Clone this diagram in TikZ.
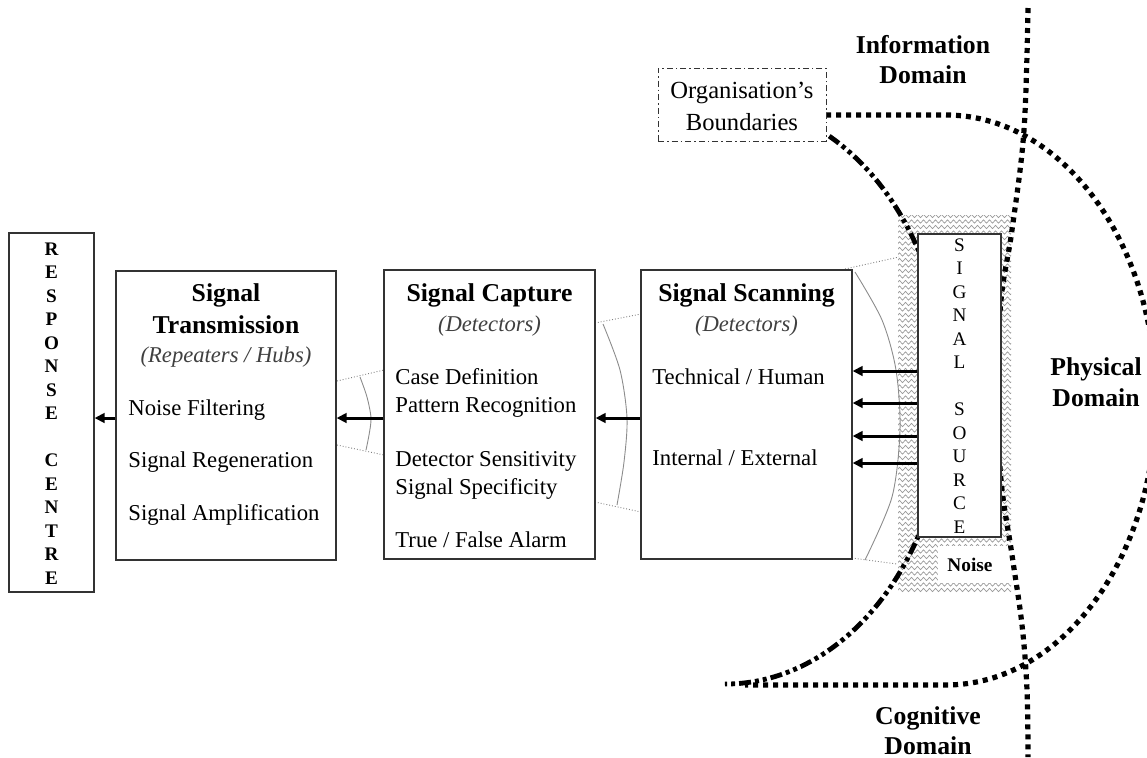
\documentclass[tikz,border=0pt]{standalone}
\usepackage{fontspec}
\setmainfont{Liberation Serif}
\usetikzlibrary{arrows.meta,decorations.pathmorphing,fit}
\newcommand\myfbody{\fontsize{11.35}{13.6}\selectfont}
\newcommand\myftitle{\fontsize{12.85}{16}\selectfont\bfseries}
\newcommand\myfital{\fontsize{11.3}{13.6}\selectfont\itshape\color{black!75}}
\newcommand\myforg{\fontsize{12.3}{16}\selectfont}
\newcommand\myflet{\fontsize{9.6}{11.75}\selectfont}
\newcommand\myfnoise{\fontsize{9.65}{11}\selectfont\bfseries}
\begin{document}
\begin{tikzpicture}[x=0.5pt,y=-0.5pt,
  box/.style={draw=black!80, line width=0.6pt, fill=white, inner sep=0pt},
  arr/.style={line width=1.5pt, -{Triangle[length=5pt,width=4.8pt]}},
  beamline/.style={draw=black!50, line width=0.45pt, densely dotted},
  beamarc/.style={draw=black!45, line width=0.45pt},
  dom/.style={line width=2.6pt, dash pattern=on 2.5pt off 2.5pt},
  orgarc/.style={line width=2.4pt, dash pattern=on 6pt off 2pt on 2pt off 2pt on 2pt off 2pt},
  txt/.style={anchor=base west, inner sep=0pt, font=\myfbody},
  ttl/.style={anchor=base, inner sep=0pt, font=\myftitle},
  itl/.style={anchor=base, inner sep=0pt, font=\myfital},
  hatchline/.style={draw=black!40, line width=0.35pt, decorate, decoration={zigzag, segment length=3pt, amplitude=0.8pt}},
]
\useasboundingbox (0,0) rectangle (1147,757);

% noise hatch
\begin{scope}
\clip (898,215) rectangle (1011,592);
\foreach \yy in {216,221.5,...,596} {
  \draw[hatchline] (892,\yy) -- (1020,\yy);
}
\end{scope}
\fill[white] (938,546) rectangle (1011,583);

% beams (grey)
\draw[beamline] (337,381) -- (384,370);
\draw[beamline] (337,445) -- (384,455);
\draw[beamarc] plot[smooth] coordinates {(360,377) (367,397) (371,418) (369,435) (366,450)};
\draw[beamline] (595,323) -- (641,314);
\draw[beamline] (595,502) -- (641,512);
\draw[beamarc] plot[smooth] coordinates {(603,324) (620,370) (627,418) (624,462) (617,505)};
\draw[beamline] (845,269) -- (899,257);
\draw[beamline] (852,558) -- (897,564);
\draw[beamarc] plot[smooth] coordinates {(855,272) (882,320) (896,370) (900,430) (892,497) (865,560)};

% domain boundaries
\draw[dom] (826,115) -- (946,115) arc[start angle=-90, end angle=90, x radius=210, y radius=285] -- (745,685);
\draw[dom] plot[smooth, tension=0.6] coordinates {(1028,8) (1024,130) (1012,230) (1001,300) (997,390) (1001,480) (1012,555) (1022,625) (1027,690) (1028,757)};
\draw[orgarc] (829.2,136.1) arc[start angle=-62, end angle=90, x radius=222, y radius=291];

% boxes
\node[box, fit={(9,233) (94,592)}] (resp) {};
\node[box, fit={(116,271) (336,560)}] (trans) {};
\node[box, fit={(384,270) (595,559)}] (cap) {};
\node[box, fit={(641,270) (852,559)}] (scan) {};
\node[box, fit={(918,234) (1001,537)}] (src) {};
\node[draw=black!80, line width=0.5pt, dash pattern=on 3pt off 1.5pt on 0.8pt off 1.5pt, fill=white, inner sep=0pt, fit={(658,68) (826,141)}] (org) {};

% vertical letters
\node[inner sep=0pt, align=center, font=\myflet\bfseries] (resptxt) at (51.5,413.5) {R\\E\\S\\P\\O\\N\\S\\E\\\mbox{}\\C\\E\\N\\T\\R\\E};
\node[inner sep=0pt, align=center, font=\myflet] (srctxt) at (959.5,386) {S\\I\\G\\N\\A\\L\\\mbox{}\\S\\O\\U\\R\\C\\E};

% transmission
\node[ttl] (t1) at (226,301) {Signal};
\node[ttl] (t2) at (226,333) {Transmission};
\node[itl] (t3) at (226,362) {(Repeaters / Hubs)};
\node[txt] (t4) at (128,415) {Noise Filtering};
\node[txt] (t5) at (128,467) {Signal Regeneration};
\node[txt] (t6) at (128,520) {Signal Amplification};

% capture
\node[ttl] (c1) at (489.5,301) {Signal Capture};
\node[itl] (c2) at (489.5,331) {(Detectors)};
\node[txt] (c3) at (395,384) {Case Definition};
\node[txt] (c4) at (395,412) {Pattern Recognition};
\node[txt] (c5) at (395,466) {Detector Sensitivity};
\node[txt] (c6) at (395,494) {Signal Specificity};
\node[txt] (c7) at (395,547) {True / False Alarm};

% scanning
\node[ttl] (s1) at (746.5,301) {Signal Scanning};
\node[itl] (s2) at (746.5,331) {(Detectors)};
\node[txt] (s3) at (652,384) {Technical / Human};
\node[txt] (s4) at (652,465) {Internal / External};

% labels
\node[inner sep=0pt, font=\myfnoise] (noise) at (970,565) {Noise};
\node[inner sep=0pt, anchor=base, font=\myforg] (o1) at (742,98) {Organisation’s};
\node[inner sep=0pt, anchor=base, font=\myforg] (o2) at (742,130) {Boundaries};
\node[ttl] (i1) at (923,53) {Information};
\node[ttl] (i2) at (923,83) {Domain};
\node[ttl] (p1) at (1096,375) {Physical};
\node[ttl] (p2) at (1096,406) {Domain};
\node[ttl] (g1) at (928,724) {Cognitive};
\node[ttl] (g2) at (928,754) {Domain};

% arrows
\coordinate (ya) at (0,371);
\coordinate (yb) at (0,403);
\coordinate (yc) at (0,436);
\coordinate (yd) at (0,463);
\coordinate (ym) at (0,418);
\draw[arr] (src.west |- ya) -- (scan.east |- ya);
\draw[arr] (src.west |- yb) -- (scan.east |- yb);
\draw[arr] (src.west |- yc) -- (scan.east |- yc);
\draw[arr] (src.west |- yd) -- (scan.east |- yd);
\draw[arr] (scan.west |- ym) -- (cap.east |- ym);
\draw[arr] (cap.west |- ym) -- (trans.east |- ym);
\draw[arr] (trans.west |- ym) -- (resp.east |- ym);
\end{tikzpicture}
\end{document}
